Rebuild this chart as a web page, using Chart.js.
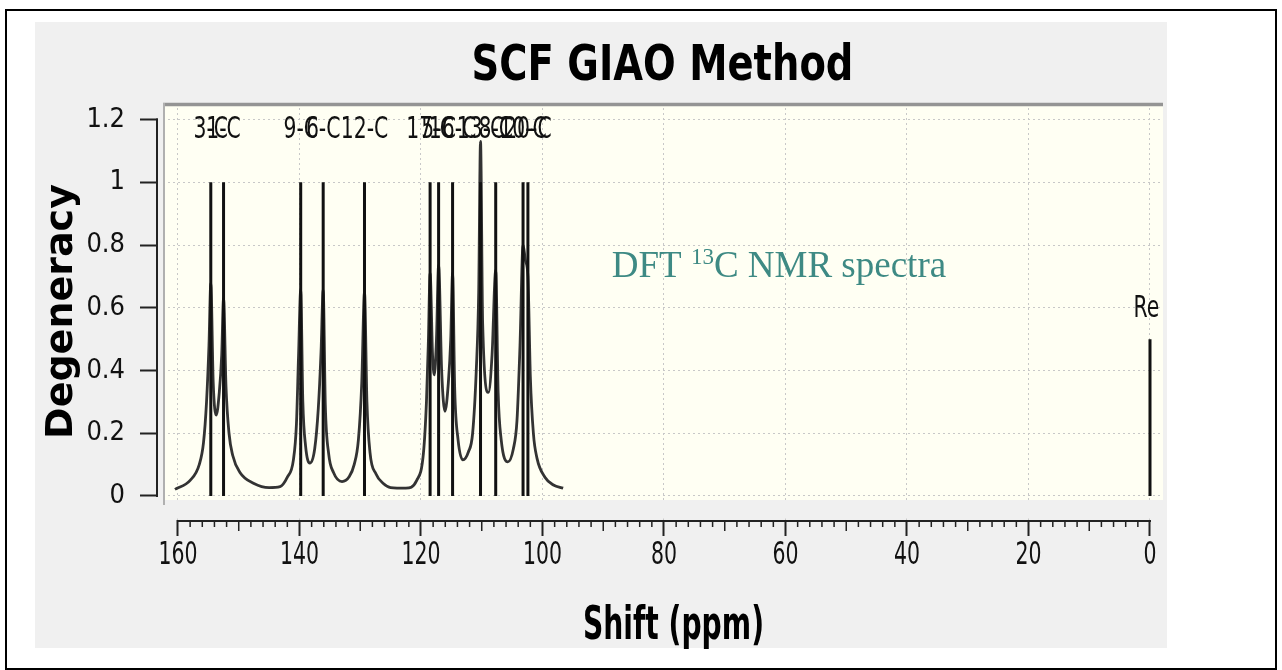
<!DOCTYPE html>
<html>
<head>
<meta charset="utf-8">
<script src="https://cdn.jsdelivr.net/npm/chart.js@4.4.1/dist/chart.umd.min.js"></script>
<style>
  html, body { margin: 0; padding: 0; background: #fff; }
  #frame { position: absolute; left: 5px; top: 9px; width: 1272px; height: 661px; border: 2px solid #000; box-sizing: border-box; }
  #panel { position: absolute; left: 35px; top: 22px; width: 1132px; height: 626px; background: #f0f0f0; }
  #chart { position: absolute; left: 0; top: 0; }
</style>
</head>
<body>
<div id="frame"></div>
<div id="panel"></div>
<canvas id="chart" width="1282" height="670"></canvas>
<script>
var chartTitle = "SCF GIAO Method";
var xTitle = "Shift (ppm)";
var yTitle = "Degeneracy";
var note = ["DFT ", "13", "C NMR spectra"];
var xTicks = [0, 20, 40, 60, 80, 100, 120, 140, 160];
var yTicks = [0, 0.2, 0.4, 0.6, 0.8, 1, 1.2];

// stick lines (shift in ppm, degeneracy, atom label)
var stickShift = [154.6, 152.5, 139.8, 136.1, 129.3, 118.5, 117.1, 114.8, 110.2, 107.7, 103.2, 102.4, 0];
var stickHeight = [1, 1, 1, 1, 1, 1, 1, 1, 1, 1, 1, 1, 0.5];
var stickLabel = ["3-C", "1-C", "9-C", "6-C", "12-C", "17-C", "5-C", "16-C", "13-C", "8-C", "10-C", "20-C", "Ref"];

// broadened envelope
var curveShift = [160.5, 158.0, 156.5, 155.8, 155.3, 154.9, 154.6, 154.2, 153.7, 153.2, 152.8, 152.5, 152.1, 151.6, 151.0, 149.8, 147.5, 145.0, 143.2,
  142.0, 141.0, 140.5, 140.15, 139.8, 139.45, 139.0, 138.3, 137.5, 136.9, 136.45, 136.1, 135.75, 135.2, 134.4, 133.0,
  131.8, 131.0, 130.3, 129.75, 129.3, 128.9, 128.4, 127.4, 126.2, 125.0, 122.5,
  120.7, 119.6, 119.1, 118.8, 118.5, 118.1, 117.8, 117.45, 117.1, 116.6, 116.05, 115.5, 115.1, 114.8, 114.45, 113.9, 113.1,
  112.2, 111.5, 110.9, 110.5, 110.2, 109.85, 108.9, 108.3, 107.7, 107.3, 106.8, 105.7,
  104.8, 104.2, 103.7, 103.2, 102.8, 102.4, 102.0, 101.5, 100.9, 99.6, 98.2, 96.6];
var curveValue = [0.021, 0.05, 0.10, 0.17, 0.30, 0.48, 0.678, 0.36, 0.258, 0.33, 0.45, 0.63, 0.35, 0.20, 0.13, 0.075, 0.04, 0.027, 0.03,
  0.06, 0.115, 0.23, 0.45, 0.657, 0.30, 0.16, 0.105, 0.15, 0.28, 0.46, 0.657, 0.29, 0.135, 0.075, 0.046,
  0.062, 0.10, 0.18, 0.36, 0.651, 0.30, 0.14, 0.07, 0.04, 0.027, 0.025,
  0.05, 0.136, 0.30, 0.48, 0.71, 0.45, 0.386, 0.5, 0.736, 0.40, 0.27, 0.36, 0.50, 0.71, 0.34, 0.18, 0.115,
  0.14, 0.20, 0.40, 0.65, 1.13, 0.55, 0.33, 0.45, 0.72, 0.33, 0.18, 0.109,
  0.15, 0.24, 0.48, 0.80, 0.75, 0.70, 0.38, 0.20, 0.12, 0.06, 0.035, 0.025];

var sticks = [];
for (var i = 0; i < stickShift.length; i++) {
  sticks.push({ x: stickShift[i], y: 0 });
  sticks.push({ x: stickShift[i], y: stickHeight[i] });
  sticks.push({ x: stickShift[i], y: null });
}
var curve = [];
for (i = 0; i < curveShift.length; i++) {
  curve.push({ x: curveShift[i], y: curveValue[i] });
}

var sansC = "'DejaVu Sans Condensed', 'DejaVu Sans', sans-serif";

// text squeezed sideways, the original picture is narrow
function narrowText(ctx, text, px, py, sx) {
  ctx.save();
  ctx.translate(px, py);
  ctx.scale(sx, 1);
  ctx.fillText(text, 0, 0);
  ctx.restore();
}

var decor = {
  id: 'decor',
  beforeDraw: function (chart) {
    var ctx = chart.ctx, a = chart.chartArea;
    ctx.save();
    ctx.fillStyle = '#fffff3';
    ctx.fillRect(a.left + 5, a.top, a.right - a.left - 5, a.bottom - a.top - 20);
    ctx.restore();
  },
  beforeDatasetsDraw: function (chart) {
    var ctx = chart.ctx, a = chart.chartArea;
    ctx.save();
    ctx.fillStyle = '#f0f0f0';
    ctx.fillRect(a.left, a.bottom - 20, a.right - a.left, 18.5);
    ctx.fillRect(a.left, a.top, 5, a.bottom - a.top - 1.5);
    ctx.strokeStyle = '#949494';
    ctx.lineWidth = 3.5;
    ctx.beginPath();
    ctx.moveTo(a.left + 5, a.top + 1.5);
    ctx.lineTo(a.right, a.top + 1.5);
    ctx.stroke();
    ctx.strokeStyle = '#b0b0b0';
    ctx.lineWidth = 2;
    ctx.beginPath();
    ctx.moveTo(a.left + 6, a.top);
    ctx.lineTo(a.left + 6, a.bottom - 15);
    ctx.stroke();
    ctx.restore();
  },
  afterDraw: function (chart) {
    var ctx = chart.ctx, a = chart.chartArea, x = chart.scales.x, y = chart.scales.y;
    var i;
    ctx.save();
    ctx.strokeStyle = '#222';
    ctx.lineWidth = 2;
    // y axis bracket
    ctx.beginPath();
    ctx.moveTo(a.left - 1, y.getPixelForValue(yTicks[yTicks.length - 1]) - 1);
    ctx.lineTo(a.left - 1, y.getPixelForValue(0) + 1);
    ctx.stroke();
    // x axis line and minor ticks
    ctx.beginPath();
    ctx.moveTo(x.getPixelForValue(160) - 1, a.bottom + 1);
    ctx.lineTo(x.getPixelForValue(0) + 1, a.bottom + 1);
    ctx.stroke();
    ctx.lineWidth = 1.5;
    ctx.beginPath();
    for (var v = 2; v < 160; v += 2) {
      if (v % 20 === 0) continue;
      var len = v % 10 === 0 ? 11 : 7;
      var px = x.getPixelForValue(v);
      ctx.moveTo(px, a.bottom);
      ctx.lineTo(px, a.bottom + len);
    }
    ctx.stroke();

    // x tick labels and title
    ctx.fillStyle = '#111';
    ctx.textAlign = 'center';
    ctx.textBaseline = 'alphabetic';
    ctx.font = "32px 'DejaVu Sans', sans-serif";
    for (i = 0; i < xTicks.length; i++) {
      narrowText(ctx, String(xTicks[i]), x.getPixelForValue(xTicks[i]), a.bottom + 44, 0.64);
    }
    ctx.fillStyle = '#000';
    ctx.font = "bold 47px 'DejaVu Sans', sans-serif";
    narrowText(ctx, xTitle, (a.left + a.right) / 2 + 13, a.bottom + 119, 0.6);

    // peak labels
    ctx.save();
    ctx.beginPath();
    ctx.rect(a.left, a.top, a.right - a.left - 4, a.bottom - a.top);
    ctx.clip();
    ctx.fillStyle = '#111';
    ctx.font = "30px 'DejaVu Sans', sans-serif";
    for (i = 0; i < stickLabel.length; i++) {
      var level = stickHeight[i] >= 1 ? 1.14 : stickHeight[i] + 0.07;
      narrowText(ctx, stickLabel[i], x.getPixelForValue(stickShift[i]), y.getPixelForValue(level), 0.68);
    }
    ctx.restore();

    // annotation
    ctx.fillStyle = '#3e8a84';
    ctx.textAlign = 'left';
    var nx = x.getPixelForValue(88.6), ny = y.getPixelForValue(0.698);
    ctx.font = "37px 'Liberation Serif', serif";
    ctx.fillText(note[0], nx, ny);
    nx += ctx.measureText(note[0]).width;
    ctx.font = "23px 'Liberation Serif', serif";
    ctx.fillText(note[1], nx, ny - 13);
    nx += ctx.measureText(note[1]).width;
    ctx.font = "37px 'Liberation Serif', serif";
    ctx.fillText(note[2], nx, ny);

    // title
    ctx.fillStyle = '#000';
    ctx.textAlign = 'center';
    ctx.font = "bold 50px 'DejaVu Sans', sans-serif";
    narrowText(ctx, chartTitle, (a.left + a.right) / 2 + 2, 80, 0.77);
    ctx.restore();
  }
};

new Chart(document.getElementById('chart'), {
  type: 'line',
  data: {
    datasets: [{
      data: sticks,
      borderColor: '#111',
      borderWidth: 3,
      pointRadius: 0,
      spanGaps: false,
      borderCapStyle: 'butt'
    }, {
      data: curve,
      borderColor: '#333',
      borderWidth: 2.8,
      pointRadius: 0,
      cubicInterpolationMode: 'monotone'
    }]
  },
  options: {
    responsive: false,
    animation: false,
    devicePixelRatio: 1,
    layout: { padding: { left: 35, right: 119, top: 103, bottom: 0 } },
    plugins: {
      legend: { display: false },
      tooltip: { enabled: false },
      title: { display: false }
    },
    scales: {
      x: {
        type: 'linear',
        reverse: true,
        min: -2.14,
        max: 163.29,
        afterBuildTicks: function (s) { s.ticks = xTicks.map(function (v) { return { value: v }; }); },
        afterFit: function (s) { s.height = 150; },
        grid: { color: '#c8c8c8', lineWidth: 1, tickLength: 16, tickColor: '#222', tickWidth: 2, tickBorderDash: [] },
        border: { display: false, dash: [2, 3] },
        ticks: { display: false, autoSkip: false },
        title: { display: false, text: xTitle }
      },
      y: {
        min: -0.0765,
        max: 1.2526,
        afterBuildTicks: function (s) { s.ticks = yTicks.map(function (v) { return { value: v }; }); },
        afterFit: function (s) { s.width = 123; },
        grid: { color: '#c8c8c8', lineWidth: 1, tickLength: 18, tickColor: '#222', tickWidth: 2, tickBorderDash: [] },
        border: { display: false, dash: [2, 3] },
        ticks: {
          color: '#111', padding: 15, font: { family: sansC, size: 27 },
          callback: function (v) { return String(v); }
        },
        title: { display: true, text: yTitle, color: '#000', font: { family: "'DejaVu Sans', sans-serif", size: 38, weight: 'bold' }, padding: { top: 4, bottom: 0 } }
      }
    }
  },
  plugins: [decor]
});
</script>
</body>
</html>
